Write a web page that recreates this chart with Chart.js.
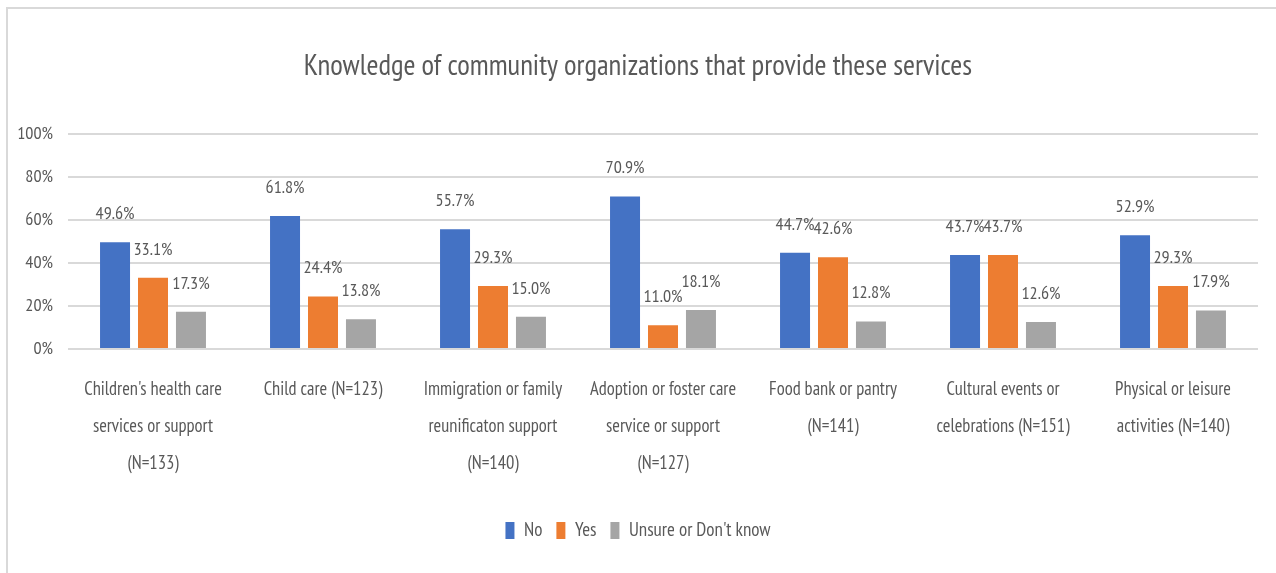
<!DOCTYPE html>
<html>
<head>
<meta charset="utf-8">
<script src="https://cdn.jsdelivr.net/npm/chart.js@4.4.1/dist/chart.umd.min.js"></script>
<style>
  html, body { margin: 0; padding: 0; background: #ffffff; }
  body { width: 1276px; height: 573px; position: relative; overflow: hidden; }
  #frame {
    position: absolute; left: 6px; top: 7px;
    width: 1268px; height: 564px;
    border-top: 2px solid #d9d9d9; border-left: 2px solid #d9d9d9;
  }
  #wrap { position: relative; width: 1268px; height: 564px; }
</style>
</head>
<body>
<div id="frame"><div id="wrap"><canvas id="chart"></canvas></div></div>
<script>
const chartTitle = "Knowledge of community organizations that provide these services";
const categories = [
  ["Children's health care", "services or support", "(N=133)"],
  ["Child care (N=123)"],
  ["Immigration or family", "reunificaton support", "(N=140)"],
  ["Adoption or foster care", "service or support", "(N=127)"],
  ["Food bank or pantry", "(N=141)"],
  ["Cultural events or", "celebrations (N=151)"],
  ["Physical or leisure", "activities (N=140)"]
];
const seriesNames = ["No", "Yes", "Unsure or Don't know"];
const noValues     = [49.6, 61.8, 55.7, 70.9, 44.7, 43.7, 52.9];
const yesValues    = [33.1, 24.4, 29.3, 11.0, 42.6, 43.7, 29.3];
const unsureValues = [17.3, 13.8, 15.0, 18.1, 12.8, 12.6, 17.9];
const yTicks = [0, 20, 40, 60, 80, 100];

const FONT = "'PT Sans Narrow', 'Roboto Condensed', 'DejaVu Sans Condensed', sans-serif";
const TEXT = '#595959';

const valueLabels = {
  id: 'valueLabels',
  afterDatasetsDraw(chart) {
    const ctx = chart.ctx;
    ctx.save();
    ctx.font = '18px ' + FONT;
    ctx.fillStyle = TEXT;
    ctx.textAlign = 'center';
    ctx.textBaseline = 'alphabetic';
    chart.data.datasets.forEach((ds, i) => {
      const meta = chart.getDatasetMeta(i);
      if (meta.hidden) return;
      meta.data.forEach((bar, j) => {
        ctx.fillText(ds.data[j].toFixed(1) + '%', bar.x, bar.y - 23);
      });
    });
    ctx.restore();
  }
};

new Chart(document.getElementById('chart'), {
  type: 'bar',
  data: {
    labels: categories,
    datasets: [
      { label: seriesNames[0], data: noValues, backgroundColor: '#4472C4' },
      { label: seriesNames[1], data: yesValues, backgroundColor: '#ED7D31' },
      { label: seriesNames[2], data: unsureValues, backgroundColor: '#A5A5A5' }
    ]
  },
  options: {
    responsive: true,
    maintainAspectRatio: false,
    animation: false,
    devicePixelRatio: 1,
    datasets: { bar: { categoryPercentage: 0.67, barPercentage: 0.79 } },
    layout: { padding: { left: 10, right: 18, top: 0, bottom: 23 } },
    plugins: {
      title: {
        display: true,
        text: chartTitle,
        color: TEXT,
        font: { family: FONT, size: 29, weight: 'normal' },
        padding: { top: 40, bottom: 50 }
      },
      legend: {
        position: 'bottom',
        labels: {
          color: TEXT,
          font: { family: FONT, size: 19 },
          boxWidth: 9,
          boxHeight: 17,
          padding: 14
        }
      },
      tooltip: { enabled: false }
    },
    scales: {
      x: {
        grid: { display: false, drawTicks: false },
        border: { display: false },
        ticks: {
          color: TEXT,
          font: { family: FONT, size: 18.5, lineHeight: '37px' },
          padding: 22,
          maxRotation: 0,
          autoSkip: false
        },
        afterFit(scale) { scale.height += 3; }
      },
      y: {
        min: 0,
        max: 100,
        afterBuildTicks(scale) { scale.ticks = yTicks.map(v => ({ value: v })); },
        afterFit(scale) { scale.width = 50; },
        grid: { color: '#d9d9d9', lineWidth: 2, drawTicks: false },
        border: { display: false },
        ticks: {
          color: TEXT,
          font: { family: FONT, size: 18 },
          padding: 15,
          callback: v => v + '%'
        }
      }
    }
  },
  plugins: [valueLabels]
});
</script>
</body>
</html>
